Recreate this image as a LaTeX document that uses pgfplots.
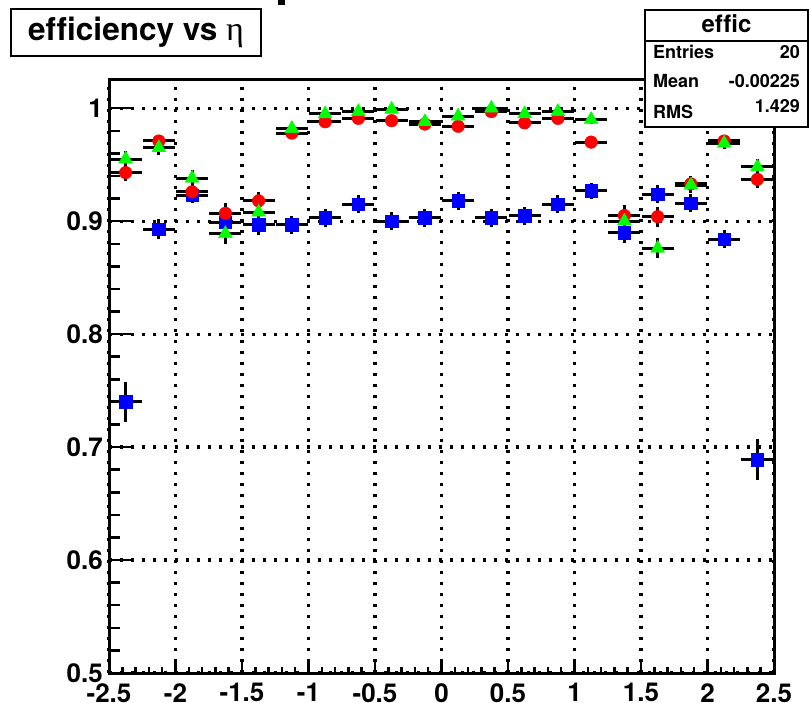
\documentclass[border=0pt]{standalone}
\usepackage{fontspec}
\setmainfont{TeX Gyre Heros}[Ligatures=CommonOff]
\newfontfamily\symfont{Liberation Serif}
\usepackage{pgfplots}
\usepackage{pgfplotstable}
\pgfplotsset{compat=1.18}
\definecolor{rgreen}{rgb}{0,1,0}
\definecolor{rred}{rgb}{1,0,0}
\definecolor{rblue}{rgb}{0,0,1}

\pgfplotstableread{
x      ex    r     er    g     eg    b     eb
-2.375 0.12  0.943 0.007 0.955 0.007 0.740 0.018
-2.125 0.12  0.971 0.005 0.965 0.006 0.893 0.009
-1.875 0.12  0.926 0.007 0.938 0.007 0.923 0.007
-1.625 0.12  0.907 0.009 0.889 0.009 0.899 0.009
-1.375 0.12  0.918 0.008 0.908 0.008 0.897 0.009
-1.125 0.12  0.978 0.004 0.982 0.004 0.897 0.008
-0.875 0.12  0.988 0.004 0.995 0.003 0.903 0.008
-0.625 0.12  0.991 0.003 0.997 0.002 0.915 0.008
-0.375 0.12  0.989 0.003 0.999 0.002 0.900 0.008
-0.125 0.12  0.986 0.004 0.988 0.004 0.903 0.008
0.125  0.12  0.984 0.004 0.993 0.003 0.918 0.008
0.375  0.12  0.997 0.002 1.000 0.002 0.903 0.008
0.625  0.12  0.987 0.004 0.995 0.003 0.905 0.008
0.875  0.12  0.991 0.003 0.997 0.002 0.915 0.008
1.125  0.12  0.970 0.005 0.990 0.004 0.927 0.007
1.375  0.12  0.905 0.009 0.900 0.009 0.890 0.009
1.625  0.12  0.904 0.009 0.876 0.009 0.924 0.008
1.875  0.12  0.933 0.007 0.932 0.007 0.916 0.008
2.125  0.12  0.971 0.005 0.969 0.005 0.884 0.008
2.375  0.12  0.937 0.008 0.948 0.007 0.689 0.018
}\data

\pgfplotsset{
  commonax/.style={
    scale only axis, width=665pt, height=593pt,
    at={(109pt,29pt)}, anchor=south west,
    xmin=-2.5, xmax=2.5, ymin=0.5, ymax=1.025,
    axis line style={line width=3pt},
    tick pos=left, tick align=inside,
    tick style={black, line width=2.5pt},
  },
  ebar/.style={
    only marks,
    error bars/x dir=both, error bars/x explicit,
    error bars/y dir=both, error bars/y explicit,
    error bars/error mark=none,
    error bars/error bar style={black, line width=3pt, solid},
  },
}

\begin{document}
\begin{tikzpicture}[x=1pt,y=1pt]
\useasboundingbox (0,0) rectangle (811,702);

\begin{axis}[commonax,
  xtick={-2.5,-2,-1.5,-1,-0.5,0,0.5,1,1.5,2,2.5},
  xticklabels={-2.5,-2,-1.5,-1,-0.5,0,0.5,1,1.5,2,2.5},
  minor x tick num=4,
  major tick length=11pt, minor tick length=6pt,
  ytick={0.5,0.6,0.7,0.8,0.9,1.0}, yticklabels={},
  ytick style={draw=none},
  grid=major,
  major grid style={black, line width=3.2pt, dash pattern=on 3.2pt off 7.8pt},
  xticklabel style={font=\fontsize{26}{26}\selectfont\bfseries, inner sep=0pt, yshift=-10pt},
]
\addplot[ebar, mark=square*, mark size=6.3pt, mark options={fill=rblue, draw=rblue, line width=0.4pt}]
  table[x=x, y=b, x error=ex, y error=eb] {\data};
\addplot[ebar, mark=*, mark size=6.3pt, mark options={fill=rred, draw=rred, line width=0.4pt}]
  table[x=x, y=r, x error=ex, y error=er] {\data};
\addplot[ebar, mark=triangle*, mark size=8pt, mark options={fill=rgreen, draw=rgreen, line width=0.4pt}]
  table[x=x, y=g, x error=ex, y error=eg] {\data};
\end{axis}

\begin{axis}[commonax,
  xtick=\empty,
  ytick={0.5,0.6,0.7,0.8,0.9,1.0},
  yticklabels={0.5,0.6,0.7,0.8,0.9,1},
  minor y tick num=4,
  major tick length=22pt, minor tick length=11pt,
  yticklabel style={font=\fontsize{26}{26}\selectfont\bfseries, inner sep=0pt, xshift=-6pt},
]
\end{axis}

% title box
\node[draw, line width=2pt, fill=white, minimum width=250pt, minimum height=47pt,
  anchor=north west, inner sep=0pt, font=\fontsize{31.5}{31.5}\selectfont\bfseries]
  at (10,694) {efficiency vs {\symfont\mdseries\fontsize{34}{34}\selectfont η}};
\fill (278,697) rectangle (285,702);

% stats box
\draw[line width=2pt, fill=white] (645,575) rectangle (808,692);
\draw[line width=2pt] (645,661) -- (808,661);
\node[anchor=base, inner sep=0pt, font=\fontsize{24}{24}\selectfont\bfseries] at (726.5,669) {effic};
\begin{scope}[every node/.style={inner sep=0pt, font=\fontsize{18}{18}\selectfont\bfseries}]
\node[anchor=base west] at (653,643) {Entries};
\node[anchor=base east] at (800,643) {20};
\node[anchor=base west] at (653,614) {Mean};
\node[anchor=base east] at (800,614) {-0.00225};
\node[anchor=base west] at (653,583) {RMS};
\node[anchor=base east] at (800,589) {1.429};
\end{scope}
\end{tikzpicture}
\end{document}
